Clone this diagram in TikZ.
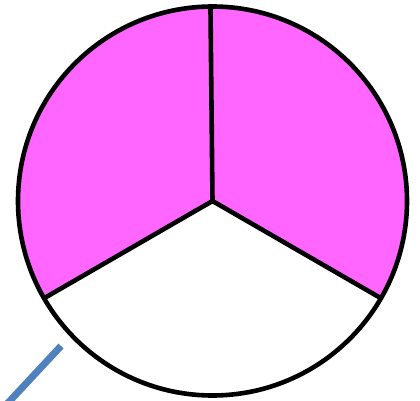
\documentclass[tikz,border=0pt]{standalone}
\definecolor{pie}{RGB}{255,102,255}
\definecolor{steel}{RGB}{79,129,189}
\tikzset{edge/.style={line width=4.6pt,draw=black,line join=round}}
\begin{document}
\begin{tikzpicture}[x=1pt,y=-1pt]
\useasboundingbox (0,0) rectangle (420,401);
\clip (0,0) rectangle (420,401);
\coordinate (c) at (212.5,201);
\def\R{194.5}
\fill[pie] (c) -- ++(-90.6:\R) arc[start angle=-90.6,end angle=-210,radius=\R] -- cycle;
\fill[pie] (c) -- ++(-90.6:\R) arc[start angle=-90.6,end angle=30,radius=\R] -- cycle;
\draw[edge] (c) circle[radius=\R];
\draw[edge] (c) -- ++(-90.6:\R);
\draw[edge] (c) -- ++(150:\R);
\draw[edge] (c) -- ++(30:\R);
\coordinate (b1) at (61,346);
\coordinate (b2) at (7,404);
\draw[steel,line width=7pt] (b1) -- (b2);
\end{tikzpicture}
\end{document}
